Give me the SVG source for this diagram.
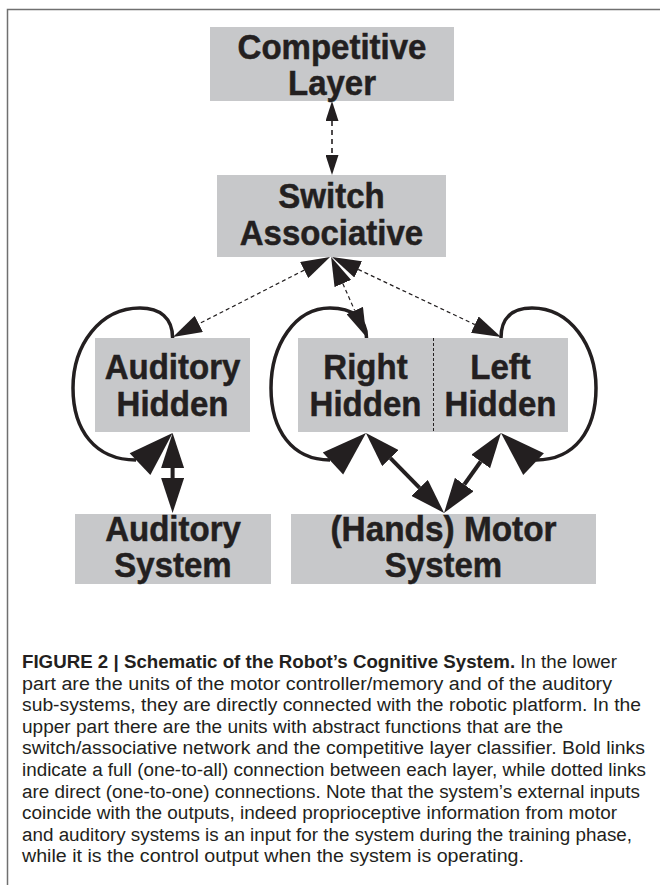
<svg xmlns="http://www.w3.org/2000/svg" xmlns:xlink="http://www.w3.org/1999/xlink" width="660" height="885" viewBox="0 0 660 885">
<style>
.box{fill:#c7c8ca}
.nt{font-family:"Liberation Sans",Arial,sans-serif;font-weight:bold;font-size:35px;fill:#231f20;stroke:#231f20;stroke-width:0.5;text-anchor:middle}
.dash{fill:none;stroke:#231f20;stroke-width:1.2;stroke-dasharray:4 3}
.cdash{fill:none;stroke:#231f20;stroke-width:1.6;stroke-dasharray:5 4}
.bold{fill:none;stroke:#231f20;stroke-width:4}
.loop{fill:none;stroke:#231f20;stroke-width:3.5}
.cap{font-family:"Liberation Sans",Arial,sans-serif;font-size:18.8px;fill:#231f20}
</style>
<defs>
<marker id="hc" viewBox="0 0 20 13" refX="0" refY="6.5" markerWidth="20" markerHeight="13" markerUnits="userSpaceOnUse" orient="auto-start-reverse"><path d="M0,0 L20,6.5 L0,13 Z" fill="#231f20"/></marker>
<marker id="hd" viewBox="0 0 29 18" refX="0" refY="9" markerWidth="29" markerHeight="18" markerUnits="userSpaceOnUse" orient="auto-start-reverse"><path d="M0,0 L29,9 L0,18 Z" fill="#231f20"/></marker>
<marker id="hb" viewBox="0 0 35 23" refX="0" refY="11.5" markerWidth="35" markerHeight="23" markerUnits="userSpaceOnUse" orient="auto-start-reverse"><path d="M0,0 L35,11.5 L0,23 Z" fill="#231f20"/></marker>
<path id="lh" d="M0,0 L-45,-15 L-45,15 Z" fill="#231f20"/>
</defs>

<path d="M7.5,885 V9.5 H660" fill="none" stroke="#707070" stroke-width="1.5"/>

<g id="competitive">
<rect class="box" x="210" y="27" width="244" height="74"/>
<text class="nt" x="332" y="59" textLength="188.9" lengthAdjust="spacingAndGlyphs">Competitive</text>
<text class="nt" x="332" y="95" textLength="88" lengthAdjust="spacingAndGlyphs">Layer</text>
</g>
<g id="switch">
<rect class="box" x="217" y="175" width="229" height="82"/>
<text class="nt" x="331.5" y="208" textLength="106.4" lengthAdjust="spacingAndGlyphs">Switch</text>
<text class="nt" x="331.5" y="245" textLength="183.4" lengthAdjust="spacingAndGlyphs">Associative</text>
</g>
<g id="auditory-hidden">
<rect class="box" x="95" y="338" width="155" height="94"/>
<text class="nt" x="172.5" y="379" textLength="135.7" lengthAdjust="spacingAndGlyphs">Auditory</text>
<text class="nt" x="172.5" y="416" textLength="111.8" lengthAdjust="spacingAndGlyphs">Hidden</text>
</g>
<g id="right-left-hidden">
<rect class="box" x="298" y="338" width="270" height="94"/>
<line x1="433.5" y1="338" x2="433.5" y2="432" stroke="#231f20" stroke-width="1" stroke-dasharray="3 2"/>
<text class="nt" x="365.5" y="379" textLength="84.3" lengthAdjust="spacingAndGlyphs">Right</text>
<text class="nt" x="365.5" y="416" textLength="111.8" lengthAdjust="spacingAndGlyphs">Hidden</text>
<text class="nt" x="500.5" y="379" textLength="60.5" lengthAdjust="spacingAndGlyphs">Left</text>
<text class="nt" x="500.5" y="416" textLength="111.8" lengthAdjust="spacingAndGlyphs">Hidden</text>
</g>
<g id="auditory-system">
<rect class="box" x="75" y="514" width="196" height="70"/>
<text class="nt" x="173" y="541" textLength="135.7" lengthAdjust="spacingAndGlyphs">Auditory</text>
<text class="nt" x="173" y="577" textLength="117.4" lengthAdjust="spacingAndGlyphs">System</text>
</g>
<g id="motor-system">
<rect class="box" x="291" y="514" width="305" height="70"/>
<text class="nt" x="443.5" y="541" textLength="226" lengthAdjust="spacingAndGlyphs">(Hands) Motor</text>
<text class="nt" x="443.5" y="577" textLength="117.4" lengthAdjust="spacingAndGlyphs">System</text>
</g>

<g id="connectors">
<path class="cdash" d="M332,121 L332,155" marker-start="url(#hc)" marker-end="url(#hc)"/>
<path class="dash" d="M304.2,270.1 L198.8,323.9" marker-start="url(#hd)" marker-end="url(#hd)"/>
<path class="dash" d="M342.8,283.5 L354.7,310.5" marker-start="url(#hd)" marker-end="url(#hd)"/>
<path class="dash" d="M358.2,269.4 L474.8,324.6" marker-start="url(#hd)" marker-end="url(#hd)"/>
<path class="bold" d="M172.6,468 L172.6,478" marker-start="url(#hb)" marker-end="url(#hb)"/>
<path class="bold" d="M390.4,458.1 L419.6,487.9" marker-start="url(#hb)" marker-end="url(#hb)"/>
<path class="bold" d="M480.7,461.5 L464.3,484.5" marker-start="url(#hb)" marker-end="url(#hb)"/>
<path class="loop" d="M172.6,338 C172.6,318 160,308 140,308 C100,308 73,345 73,388 C73,430 95,460 136,460"/>
<path class="loop" d="M366.5,338 C366.5,318 352,308 330,308 C295,308 271,345 271,388 C271,430 292,460 330,460"/>
<path class="loop" d="M501,338 C501,318 512,308 532,308 C570,308 596,345 596,388 C596,430 575,460 536,460"/>
<use xlink:href="#lh" transform="translate(172.6,433) rotate(-43.6)"/>
<use xlink:href="#lh" transform="translate(366,433) rotate(-42.8)"/>
<use xlink:href="#lh" transform="translate(501,433) rotate(-136.4)"/>
</g>

<g id="caption" class="cap">
<text x="22" y="668" textLength="595" lengthAdjust="spacingAndGlyphs"><tspan font-weight="bold">FIGURE 2 | Schematic of the Robot’s Cognitive System.</tspan> In the lower</text>
<text x="22" y="689.6" textLength="590" lengthAdjust="spacingAndGlyphs">part are the units of the motor controller/memory and of the auditory</text>
<text x="22" y="711.2" textLength="619" lengthAdjust="spacingAndGlyphs">sub-systems, they are directly connected with the robotic platform. In the</text>
<text x="22" y="732.8" textLength="541" lengthAdjust="spacingAndGlyphs">upper part there are the units with abstract functions that are the</text>
<text x="22" y="754.4" textLength="623" lengthAdjust="spacingAndGlyphs">switch/associative network and the competitive layer classifier. Bold links</text>
<text x="22" y="776" textLength="624" lengthAdjust="spacingAndGlyphs">indicate a full (one-to-all) connection between each layer, while dotted links</text>
<text x="22" y="797.6" textLength="618" lengthAdjust="spacingAndGlyphs">are direct (one-to-one) connections. Note that the system’s external inputs</text>
<text x="22" y="819.2" textLength="595" lengthAdjust="spacingAndGlyphs">coincide with the outputs, indeed proprioceptive information from motor</text>
<text x="22" y="840.8" textLength="610" lengthAdjust="spacingAndGlyphs">and auditory systems is an input for the system during the training phase,</text>
<text x="22" y="862.4" textLength="502" lengthAdjust="spacingAndGlyphs">while it is the control output when the system is operating.</text>
</g>
</svg>
